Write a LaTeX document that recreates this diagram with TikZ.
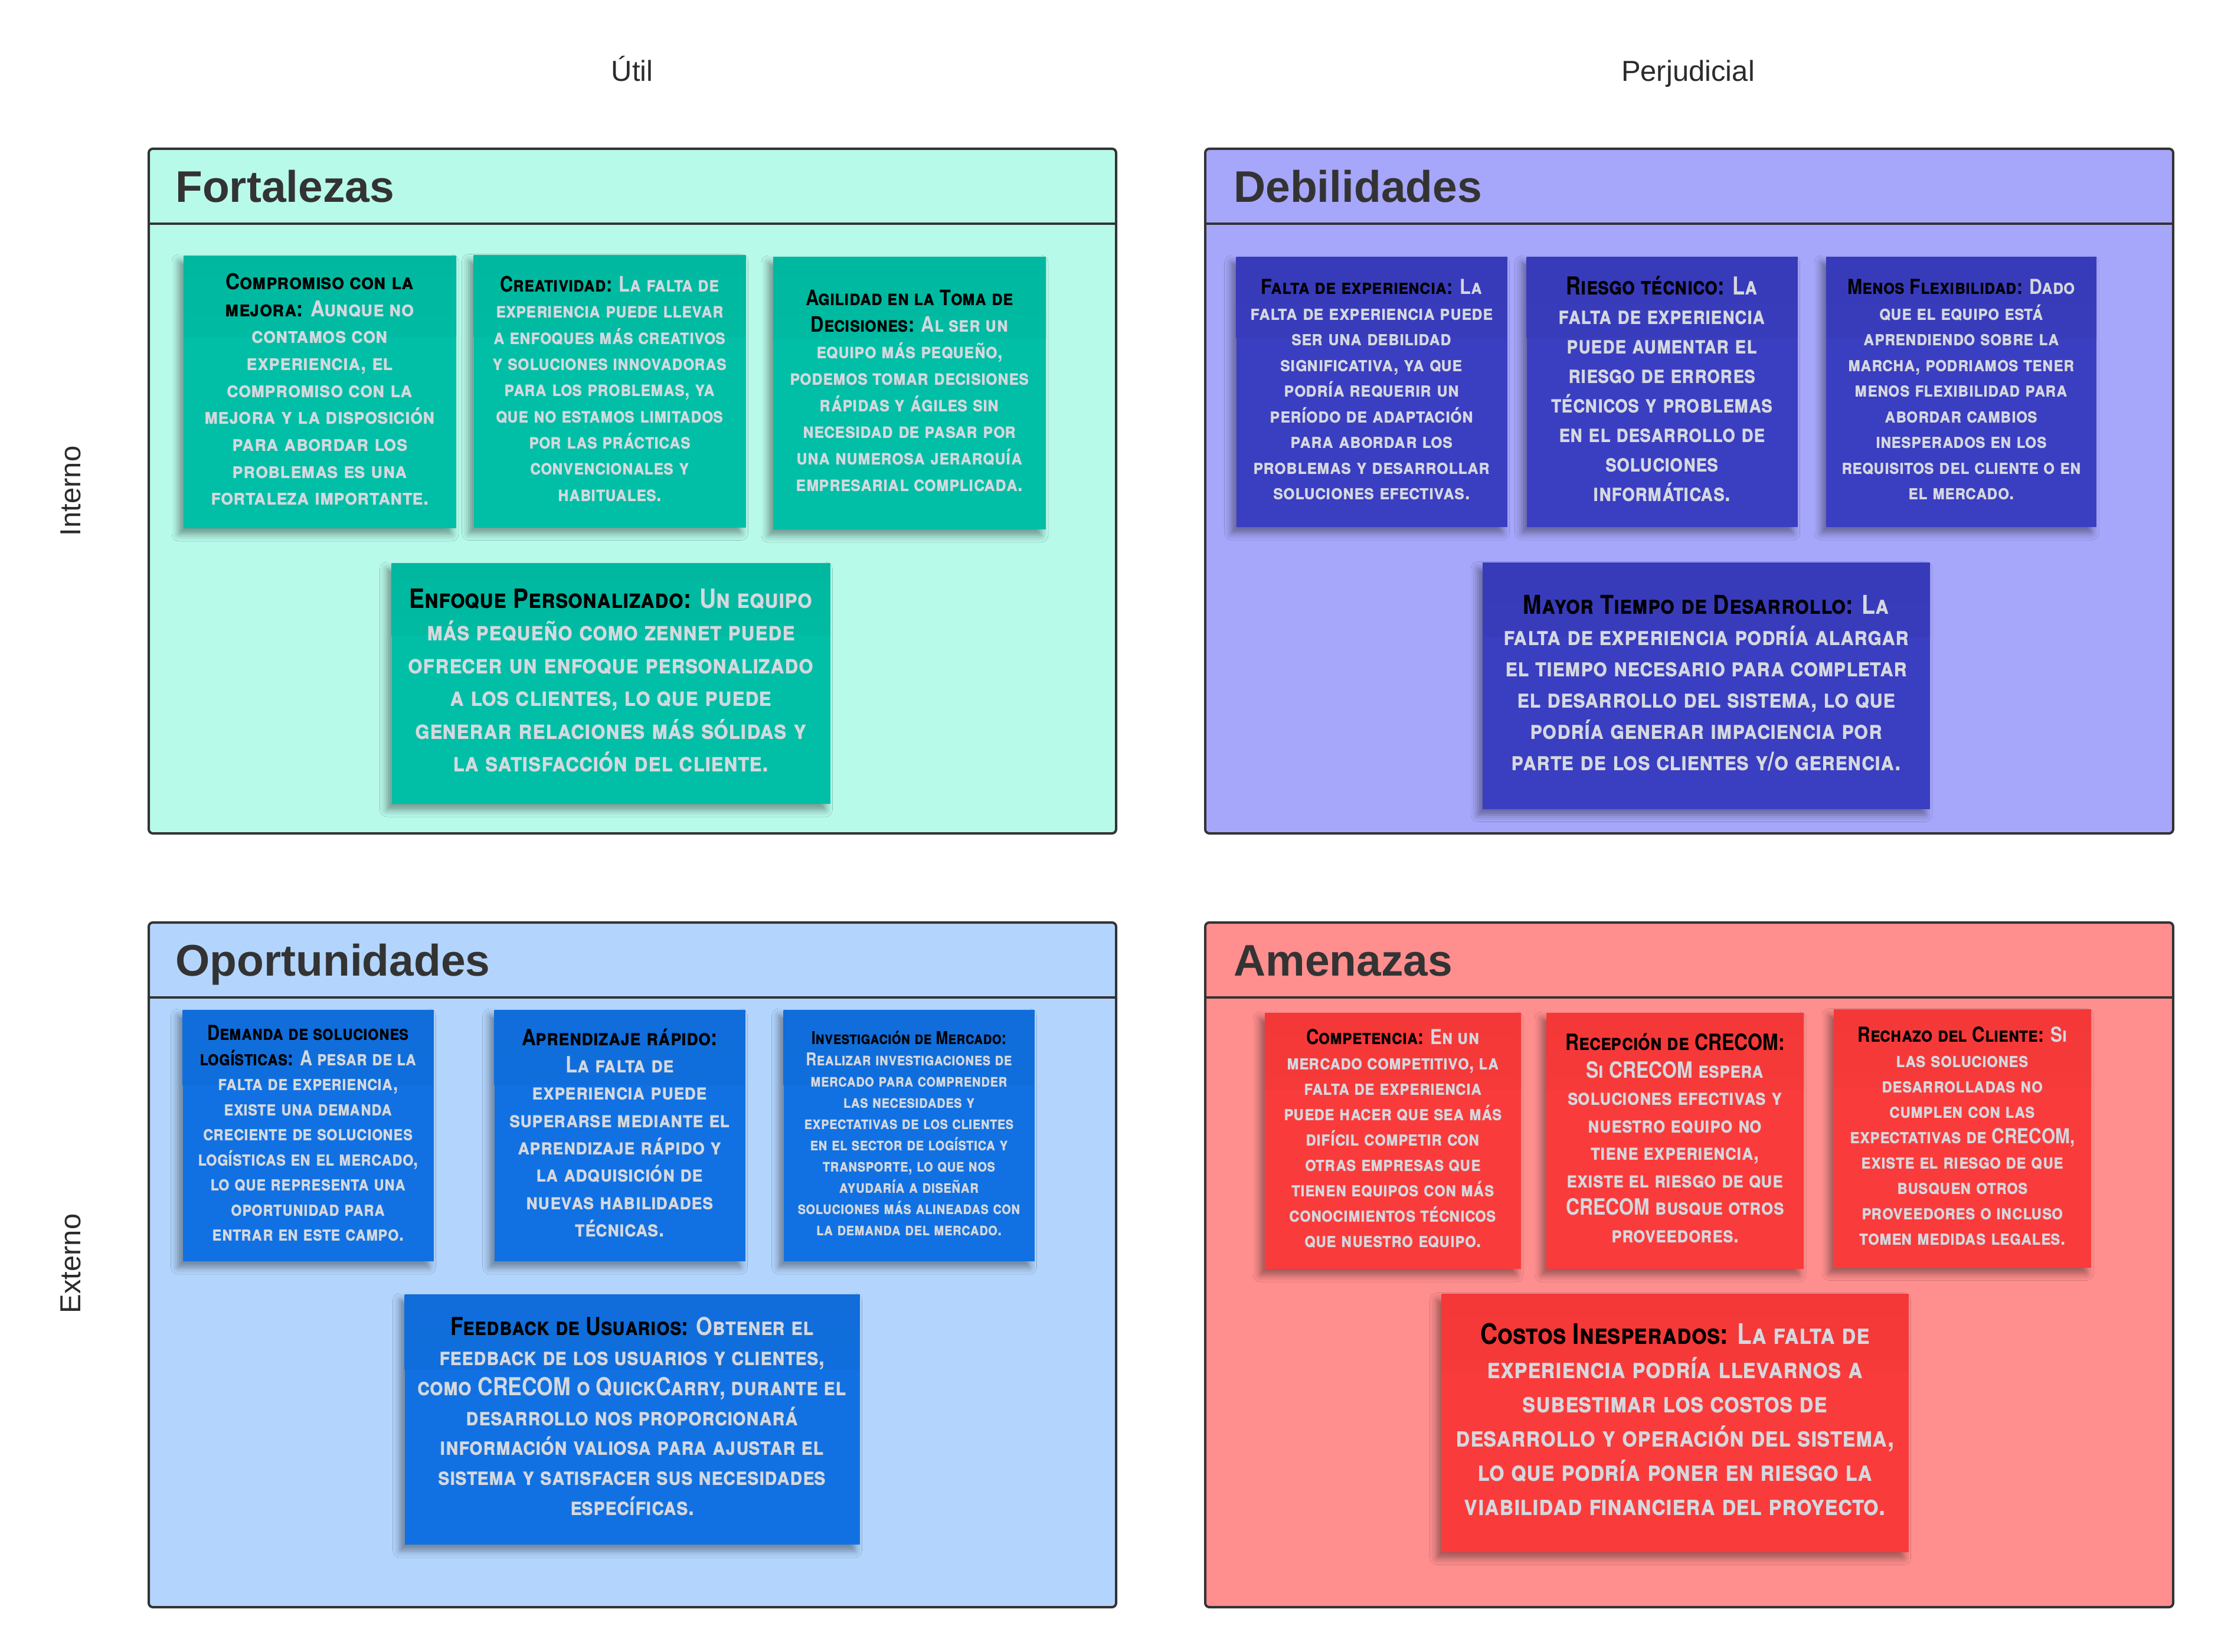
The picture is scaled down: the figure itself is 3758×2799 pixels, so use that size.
\documentclass[tikz,border=0pt]{standalone}
\usepackage{fontspec}
\usepackage{graphicx}
\setmainfont{Liberation Sans}
\newfontfamily\notefont[Letters=SmallCaps]{TeX Gyre Heros}
\usetikzlibrary{calc,shadows.blur}

\definecolor{frameC}{HTML}{333333}
\definecolor{labelC}{HTML}{2B2B2B}
\definecolor{bodyText}{HTML}{D5D8DE}
\definecolor{mintBg}{HTML}{B8FAEA}
\definecolor{tealNote}{HTML}{00BFA6}
\definecolor{tealTop}{HTML}{00B8A0}
\definecolor{lavBg}{HTML}{A6A6FA}
\definecolor{indigoNote}{HTML}{3A3EC0}
\definecolor{indigoTop}{HTML}{373BB9}
\definecolor{skyBg}{HTML}{B3D5FD}
\definecolor{blueNote}{HTML}{1171E2}
\definecolor{blueTop}{HTML}{106DDA}
\definecolor{salmonBg}{HTML}{FF8E8E}
\definecolor{redNote}{HTML}{FA3B3B}
\definecolor{redTop}{HTML}{F43838}

% heading part of a sticky note
\newcommand\hd[1]{{\color{black}#1}}
% note text: size, leading, width of widest line, lines
\newcommand\notebody[4]{{\notefont\bfseries\fontsize{#1pt}{#2pt}\selectfont
  \resizebox{#3pt}{\height}{\begin{tabular}{@{}c@{}}#4\end{tabular}}}}

\tikzset{
  frame/.style={draw=frameC, line width=4pt, rounded corners=7pt},
  sep/.style={draw=frameC, line width=4pt},
  quadtitle/.style={anchor=base west, inner sep=0pt, text=frameC,
    font=\bfseries\fontsize{75pt}{90pt}\selectfont},
  axislabel/.style={inner sep=0pt, text=labelC,
    font=\fontsize{49pt}{59pt}\selectfont},
  notebase/.style={rectangle, inner sep=0pt, text=bodyText,
    blur shadow={shadow xshift=-8pt, shadow yshift=-10pt,
      shadow blur radius=12pt, shadow opacity=40}},
  tint/.style 2 args={notebase, fill=#1,
    path picture={\fill[top color=#2, bottom color=#1]
      (path picture bounding box.north west) rectangle
      ($(path picture bounding box.north east)!0.3!(path picture bounding box.south east)$);}},
  tealnote/.style={tint={tealNote}{tealTop}},
  indigonote/.style={tint={indigoNote}{indigoTop}},
  bluenote/.style={tint={blueNote}{blueTop}},
  rednote/.style={tint={redNote}{redTop}},
}

\begin{document}
\begin{tikzpicture}[x=1pt, y=-1pt]
\useasboundingbox[fill=white] (0,0) rectangle (3758,2799);

% axis labels
\node[axislabel, anchor=base] (util) at (1071,138) {Útil};
\node[axislabel, anchor=base] (perj) at (2860,138) {Perjudicial};
\node[axislabel, rotate=90] (interno) at (120,832) {Interno};
\node[axislabel, rotate=90] (externo) at (120,2141) {Externo};

% quadrant frames
\draw[frame, fill=mintBg]   (252,252)  rectangle (1891,1412);
\draw[frame, fill=lavBg]    (2042,252) rectangle (3682,1412);
\draw[frame, fill=skyBg]    (252,1563) rectangle (1891,2723);
\draw[frame, fill=salmonBg] (2042,1563) rectangle (3682,2723);
\draw[sep] (252,379) -- (1891,379);
\draw[sep] (2042,379) -- (3682,379);
\draw[sep] (252,1690) -- (1891,1690);
\draw[sep] (2042,1690) -- (3682,1690);

\node[quadtitle] (tF) at (297,342)  {Fortalezas};
\node[quadtitle] (tD) at (2090,342) {Debilidades};
\node[quadtitle] (tO) at (297,1653) {Oportunidades};
\node[quadtitle] (tA) at (2090,1653) {Amenazas};

% Fortalezas
\node[tealnote, minimum width=462pt, minimum height=462pt] (f1) at (542,664)
 {\notebody{37}{45.7}{391}{\hd{Compromiso con la}\\ \hd{mejora:} Aunque no\\ contamos con\\ experiencia, el\\ compromiso con la\\ mejora y la disposición\\ para abordar los\\ problemas es una\\ fortaleza importante.}};
\node[tealnote, minimum width=461pt, minimum height=461pt] (f2) at (1033,663)
 {\notebody{36}{44.3}{397}{\hd{Creatividad:} La falta de\\ experiencia puede llevar\\ a enfoques más creativos\\ y soluciones innovadoras\\ para los problemas, ya\\ que no estamos limitados\\ por las prácticas\\ convencionales y\\ habituales.}};
\node[tealnote, minimum width=462pt, minimum height=462pt] (f3) at (1541,666)
 {\notebody{36}{45}{406}{\hd{Agilidad en la Toma de}\\ \hd{Decisiones:} Al ser un\\ equipo más pequeño,\\ podemos tomar decisiones\\ rápidas y ágiles sin\\ necesidad de pasar por\\ una numerosa jerarquía\\ empresarial complicada.}};
\node[tealnote, minimum width=743pt, minimum height=408pt] (f4) at (1035,1158)
 {\notebody{45}{55.5}{686}{\hd{Enfoque Personalizado:} Un equipo\\ más pequeño como zennet puede\\ ofrecer un enfoque personalizado\\ a los clientes, lo que puede\\ generar relaciones más sólidas y\\ la satisfacción del cliente.}};

% Debilidades
\node[indigonote, minimum width=459pt, minimum height=458pt] (d1) at (2324,664)
 {\notebody{35}{43.5}{411}{\hd{Falta de experiencia:} La\\ falta de experiencia puede\\ ser una debilidad\\ significativa, ya que\\ podría requerir un\\ período de adaptación\\ para abordar los\\ problemas y desarrollar\\ soluciones efectivas.}};
\node[indigonote, minimum width=459pt, minimum height=458pt] (d2) at (2816,664)
 {\notebody{42}{50}{375}{\hd{Riesgo técnico:} La\\ falta de experiencia\\ puede aumentar el\\ riesgo de errores\\ técnicos y problemas\\ en el desarrollo de\\ soluciones\\ informáticas.}};
\node[indigonote, minimum width=458pt, minimum height=458pt] (d3) at (3323,664)
 {\notebody{35}{43.5}{406}{\hd{Menos Flexibilidad:} Dado\\ que el equipo está\\ aprendiendo sobre la\\ marcha, podriamos tener\\ menos flexibilidad para\\ abordar cambios\\ inesperados en los\\ requisitos del cliente o en\\ el mercado.}};
\node[indigonote, minimum width=758pt, minimum height=417pt] (d4) at (2891,1162)
 {\notebody{44}{53}{688}{\hd{Mayor Tiempo de Desarrollo:} La\\ falta de experiencia podría alargar\\ el tiempo necesario para completar\\ el desarrollo del sistema, lo que\\ podría generar impaciencia por\\ parte de los clientes y/o gerencia.}};

% Oportunidades
\node[bluenote, minimum width=425pt, minimum height=426pt] (o1) at (522,1924)
 {\notebody{35}{42.5}{374}{\hd{Demanda de soluciones}\\ \hd{logísticas:} A pesar de la\\ falta de experiencia,\\ existe una demanda\\ creciente de soluciones\\ logísticas en el mercado,\\ lo que representa una\\ oportunidad para\\ entrar en este campo.}};
\node[bluenote, minimum width=425pt, minimum height=426pt] (o2) at (1050,1924)
 {\notebody{38}{46.3}{374}{\hd{Aprendizaje rápido:}\\ La falta de\\ experiencia puede\\ superarse mediante el\\ aprendizaje rápido y\\ la adquisición de\\ nuevas habilidades\\ técnicas.}};
\node[bluenote, minimum width=425pt, minimum height=426pt] (o3) at (1540,1924)
 {\notebody{30}{36}{377}{\hd{Investigación de Mercado:}\\ Realizar investigaciones de\\ mercado para comprender\\ las necesidades y\\ expectativas de los clientes\\ en el sector de logística y\\ transporte, lo que nos\\ ayudaría a diseñar\\ soluciones más alineadas con\\ la demanda del mercado.}};
\node[bluenote, minimum width=771pt, minimum height=424pt] (o4) at (1071,2405)
 {\notebody{42}{50.8}{726}{\hd{Feedback de Usuarios:} Obtener el\\ feedback de los usuarios y clientes,\\ como CRECOM o QuickCarry, durante el\\ desarrollo nos proporcionará\\ información valiosa para ajustar el\\ sistema y satisfacer sus necesidades\\ específicas.}};

% Amenazas
\node[rednote, minimum width=434pt, minimum height=434pt] (a1) at (2360,1933)
 {\notebody{35}{43}{370}{\hd{Competencia:} En un\\ mercado competitivo, la\\ falta de experiencia\\ puede hacer que sea más\\ difícil competir con\\ otras empresas que\\ tienen equipos con más\\ conocimientos técnicos\\ que nuestro equipo.}};
\node[rednote, minimum width=436pt, minimum height=434pt] (a2) at (2838,1933)
 {\notebody{38}{46.5}{372}{\hd{Recepción de CRECOM:}\\ Si CRECOM espera\\ soluciones efectivas y\\ nuestro equipo no\\ tiene experiencia,\\ existe el riesgo de que\\ CRECOM busque otros\\ proveedores.}};
\node[rednote, minimum width=436pt, minimum height=437pt] (a3) at (3325,1929)
 {\notebody{35}{43}{381}{\hd{Rechazo del Cliente:} Si\\ las soluciones\\ desarrolladas no\\ cumplen con las\\ expectativas de CRECOM,\\ existe el riesgo de que\\ busquen otros\\ proveedores o incluso\\ tomen medidas legales.}};
\node[rednote, minimum width=791pt, minimum height=437pt] (a4) at (2838,2411)
 {\notebody{48}{58}{743}{\hd{Costos Inesperados:} La falta de\\ experiencia podría llevarnos a\\ subestimar los costos de\\ desarrollo y operación del sistema,\\ lo que podría poner en riesgo la\\ viabilidad financiera del proyecto.}};
\end{tikzpicture}
\end{document}
